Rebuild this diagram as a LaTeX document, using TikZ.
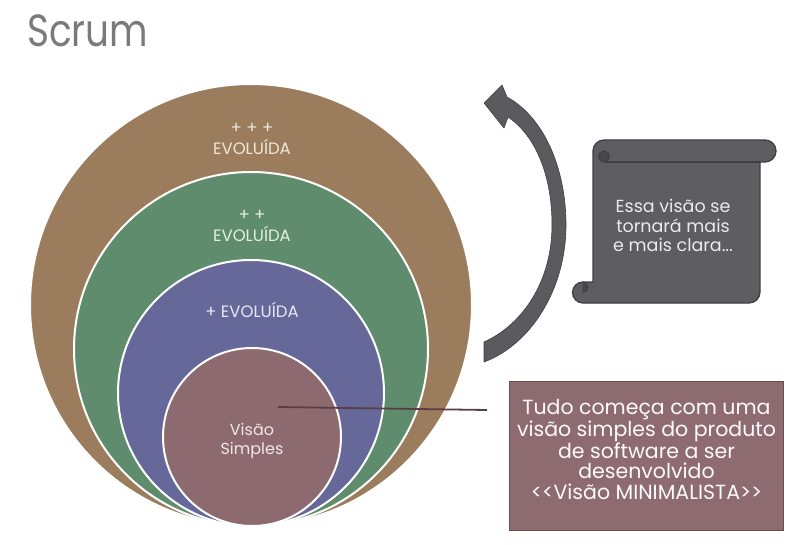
\documentclass[tikz,border=0pt]{standalone}
\usepackage{fontspec}
\setmainfont{Poppins}
\definecolor{ringbrown}{HTML}{9B7D5E}
\definecolor{ringgreen}{HTML}{5E8C6D}
\definecolor{ringblue}{HTML}{656898}
\definecolor{ringmaroon}{HTML}{8D6A70}
\definecolor{arrowgray}{HTML}{5B5B5F}
\definecolor{scrollgray}{HTML}{5E5E62}
\definecolor{edgegray}{HTML}{404044}
\definecolor{curlgray}{HTML}{48484C}
\definecolor{titlegray}{HTML}{7A7A7A}
\definecolor{calloutfill}{HTML}{8E6B71}
\definecolor{calloutedge}{HTML}{6A4C52}
\definecolor{linkmaroon}{HTML}{5B3D44}
\definecolor{txtbrown}{HTML}{F2E6D6}
\definecolor{txtgreen}{HTML}{E2F0E0}
\definecolor{txtblue}{HTML}{E8E8F4}
\definecolor{txtmaroon}{HTML}{F2E4E8}
\begin{document}
\begin{tikzpicture}[x=1pt,y=-1pt,
  ring/.style={circle,inner sep=0pt,draw=white,line width=2pt},
  ringlabel/.style={inner sep=0pt,align=center,font=\fontsize{16.5}{21}\selectfont},
  notetext/.style={inner sep=0pt,align=center,text=white!92!black},
  link/.style={draw=linkmaroon,line width=1.8pt}]
\useasboundingbox (0,0) rectangle (794,545);
\fill[white] (0,0) rectangle (794,545);

% title
\node[anchor=base west,inner sep=0pt,text=titlegray,font=\fontsize{45}{50}\selectfont]
  (title) at (27,47) {\scalebox{0.83}[1]{Scrum}};

% nested circles, all touching at the bottom
\node[ring,fill=ringbrown,minimum size=442pt] (lvl3) at (251,305) {};
\node[ring,fill=ringgreen,minimum size=354pt] (lvl2) at (251,349) {};
\node[ring,fill=ringblue,minimum size=266pt] (lvl1) at (251,393) {};
\node[ring,fill=ringmaroon,minimum size=178pt] (core) at (252,437) {};

% ring labels
\node[ringlabel,text=txtbrown,anchor=south] (lbl3) at (252,155) {+ + +\\EVOLUÍDA};
\node[ringlabel,text=txtgreen,anchor=south] (lbl2) at (252,242) {+ +\\EVOLUÍDA};
\node[ringlabel,text=txtblue,anchor=base] (lbl1) at (252,317) {+ EVOLUÍDA};
\node[inner sep=0pt,align=center,text=txtmaroon,font=\fontsize{16}{19}\selectfont,anchor=south]
  (lbl0) at (252,458.5) {Visão\\Simples};

% curved arrow pointing back up
\fill[arrowgray,draw=edgegray,line width=0.6pt,line join=round]
  (484,103) -- (502,85) -- (507,97)
  .. controls (545,118) and (566,170) .. (566,225)
  .. controls (566,290) and (530,345) .. (484,362)
  -- (484,342)
  .. controls (522,325) and (552,282) .. (552,225)
  .. controls (552,176) and (536,136) .. (508,117)
  -- (504,128) -- cycle;

% scroll
\filldraw[fill=scrollgray,draw=edgegray,line width=1.3pt,line join=round]
  (593,151) arc (180:270:11) -- (765,140) arc (270:450:11)
  -- (760,162) -- (760,292) arc (0:90:11) -- (583,303)
  arc (90:270:10.5) -- (593,282) -- cycle;
\draw[edgegray,line width=1.3pt] (604,162) -- (760,162);
\filldraw[fill=curlgray,draw=edgegray,line width=1pt]
  (604,162) arc (90:270:5.5) arc (270:450:5.5);
\filldraw[fill=curlgray,draw=edgegray,line width=0.8pt]
  (583,282) arc (270:450:5.25) -- cycle;
\node[notetext,font=\fontsize{17.5}{19.5}\selectfont,anchor=south]
  (scrolltext) at (673,252) {Essa visão se\\tornará mais\\e mais clara...};

% callout box
\node[draw=calloutedge,fill=calloutfill,line width=1pt,minimum width=274pt,minimum height=149pt,
  inner sep=0pt] (callout) at (646,455.5) {};
\node[notetext,text=white!94!pink,font=\fontsize{20.5}{20.7}\selectfont,anchor=south]
  (callouttext) at (646.5,500) {Tudo começa com uma\\visão simples do produto\\de software a ser\\desenvolvido\\<{}<Visão MINIMALISTA>{}>};

% connector from the inner circle toward the callout
\coordinate (linkstart) at (278,407);
\coordinate (linkend) at (487,410);
\draw[link] (linkstart) -- (linkend);
\end{tikzpicture}
\end{document}
